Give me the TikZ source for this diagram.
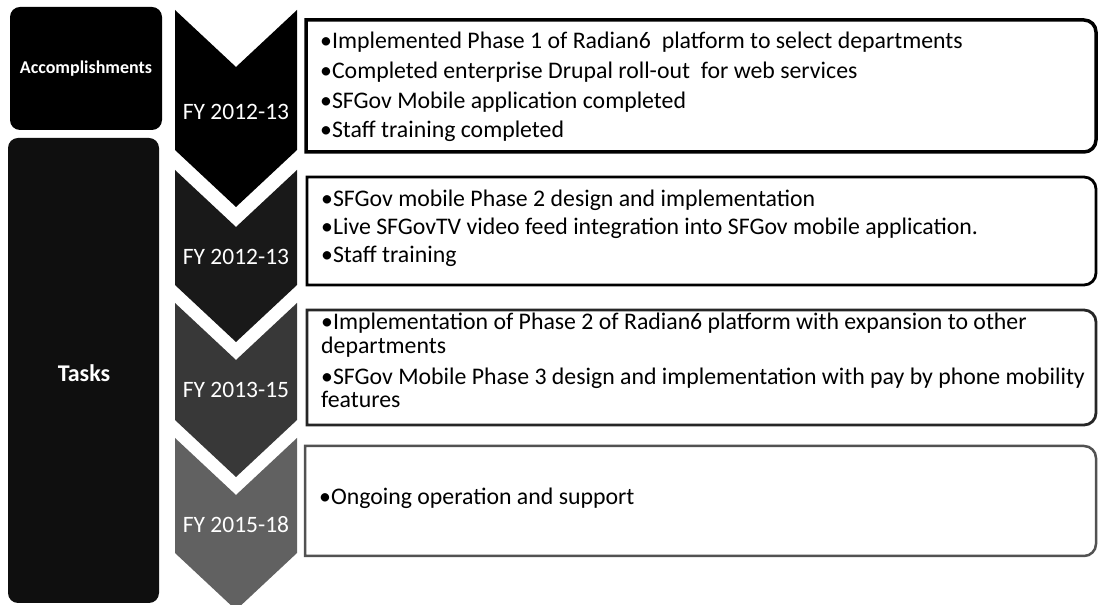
\documentclass[tikz,border=0pt]{standalone}
\usepackage{fontspec}
\setmainfont{Carlito}
\begin{document}
\begin{tikzpicture}[x=1pt,y=1pt,
  leftbox/.style={fill=#1,draw=none,rounded corners=10pt},
  chev/.style={fill=#1,draw=none},
  fylabel/.style={text=white,font=\fontsize{23.5}{26}\selectfont,inner sep=0pt},
  sidelabel/.style={text=white,font=\bfseries\fontsize{#1}{22}\selectfont,inner sep=0pt},
  itemline/.style={anchor=base west,inner sep=0pt,font=\fontsize{23.8}{27}\selectfont},
]
\useasboundingbox (0,0) rectangle (1098,605);
\fill[white] (0,0) rectangle (1098,605);
% left boxes
\fill[leftbox=black] (10,475) rectangle (162,598);
\node[sidelabel=18] (acc) at (86,536) {Accomplishments};
\fill[leftbox=black!94] (8,2) rectangle (159,467);
\node[sidelabel=24] (tasks) at (84,232) {Tasks};
% chevrons
\fill[chev=black] (175,595) -- (236,538) -- (297,595) -- (297,455) -- (236,398) -- (175,455) -- cycle;
\fill[chev=black!90] (175,435) -- (236,378) -- (297,435) -- (297,320) -- (236,263) -- (175,320) -- cycle;
\fill[chev=black!78] (175,302) -- (236,245) -- (297,302) -- (297,185) -- (236,128) -- (175,185) -- cycle;
\fill[chev=black!62] (175,167) -- (236,110) -- (297,167) -- (297,52) -- (236,-5) -- (175,52) -- cycle;
\node[fylabel] (fy1) at (236,493) {FY 2012-13};
\node[fylabel] (fy2) at (236,348) {FY 2012-13};
\node[fylabel] (fy3) at (236,215) {FY 2013-15};
\node[fylabel] (fy4) at (236,80) {FY 2015-18};
% right boxes
\draw[line width=3.5pt,black] (306,585) -- (1084,585) arc[start angle=90,end angle=0,radius=12] -- (1096,465) arc[start angle=0,end angle=-90,radius=12] -- (306,453) -- cycle;
\draw[line width=2.8pt,black] (307,428) -- (1084,428) arc[start angle=90,end angle=0,radius=12] -- (1096,332) arc[start angle=0,end angle=-90,radius=12] -- (307,320) -- cycle;
\draw[line width=2.8pt,black!85] (307,295) -- (1084,295) arc[start angle=90,end angle=0,radius=12] -- (1096,192) arc[start angle=0,end angle=-90,radius=12] -- (307,180) -- cycle;
\draw[line width=2.5pt,black!68] (305,159) -- (1084,159) arc[start angle=90,end angle=0,radius=12] -- (1096,61) arc[start angle=0,end angle=-90,radius=12] -- (305,49) -- cycle;
% texts
\node[itemline] (a1) at (320,556) {•Implemented Phase 1 of Radian6\ \ platform to select departments};
\node[itemline] (a2) at (320,526) {•Completed enterprise Drupal roll-out\ \ for web services};
\node[itemline] (a3) at (320,496) {•SFGov Mobile application completed};
\node[itemline] (a4) at (320,467) {•Staff training completed};
\node[itemline] (b1) at (321,398) {•SFGov mobile Phase 2 design and implementation};
\node[itemline] (b2) at (321,370) {•Live SFGovTV video feed integration into SFGov mobile application.};
\node[itemline] (b3) at (321,342) {•Staff training};
\node[itemline] (c1) at (321,275) {•Implementation of Phase 2 of Radian6 platform with expansion to other};
\node[itemline] (c2) at (321,251) {departments};
\node[itemline] (c3) at (321,220) {•SFGov Mobile Phase 3 design and implementation with pay by phone mobility};
\node[itemline] (c4) at (321,197) {features};
\node[itemline] (d1) at (319,100) {•Ongoing operation and support};
\end{tikzpicture}
\end{document}
